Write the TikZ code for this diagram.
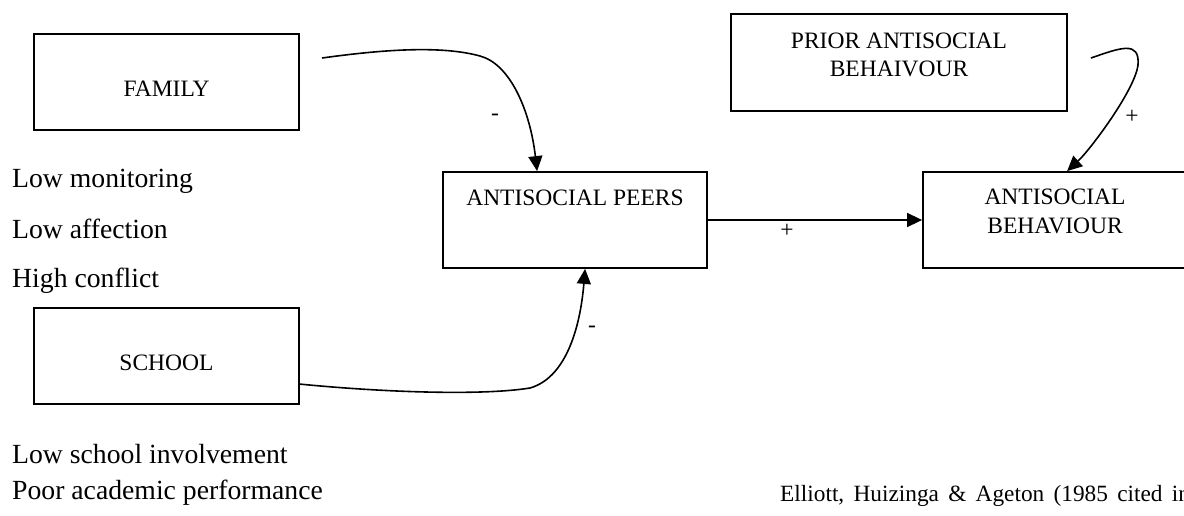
\documentclass[tikz,border=0pt]{standalone}
\usepackage{fontspec}
\setmainfont{Liberation Serif}
\usetikzlibrary{arrows.meta,calc}
\begin{document}
\begin{tikzpicture}[x=1pt,y=-1pt,
  box/.style={draw=black,line width=1.8pt,rectangle,inner sep=0pt,minimum width=265pt,minimum height=96pt},
  boxtext/.style={anchor=base,inner sep=0pt,font=\fontsize{23.5pt}{28pt}\selectfont},
  bodytext/.style={anchor=base west,inner sep=0pt,font=\fontsize{27.7pt}{33pt}\selectfont},
  signlabel/.style={anchor=center,inner sep=0pt,font=\fontsize{23.5pt}{28pt}\selectfont},
  conn/.style={draw=black,line width=1.6pt,-{Triangle[length=15pt,width=14pt]}}]
\useasboundingbox (0,0) rectangle (1184,515);
\clip (0,0) rectangle (1184,515);
\fill[white] (0,0) rectangle (1184,515);

% boxes
\node[box] (family) at (166.5,82) {};
\node[box] (school) at (166.5,356) {};
\node[box,minimum width=264pt] (peers) at (575,220) {};
\node[box,minimum width=336pt,minimum height=97pt] (prior) at (899,62.5) {};
\node[box,minimum width=264pt] (behav) at (1055,220) {};

% box texts
\node[boxtext] (familyt) at (166.5,96) {FAMILY};
\node[boxtext] (schoolt) at (166.5,370) {SCHOOL};
\node[boxtext] (peerst) at (575,205) {ANTISOCIAL PEERS};
\node[boxtext] (priort1) at (899,48) {PRIOR ANTISOCIAL};
\node[boxtext] (priort2) at (899,76) {BEHAIVOUR};
\node[boxtext] (behavt1) at (1055,204) {ANTISOCIAL};
\node[boxtext] (behavt2) at (1055,233) {BEHAVIOUR};

% side texts
\node[bodytext] (t1) at (12,187) {Low monitoring};
\node[bodytext] (t2) at (12,238) {Low affection};
\node[bodytext] (t3) at (12,287) {High conflict};
\node[bodytext] (t4) at (12,463) {Low school involvement};
\node[bodytext] (t5) at (12,499) {Poor academic performance};
\node[anchor=base west,inner sep=0pt,font=\fontsize{23.3pt}{28pt}\selectfont] (cite) at (780,501)
  {\spaceskip=9.3pt Elliott, Huizinga \& Ageton (1985 cited in};

% connector end points
\coordinate (famout) at (322,58);
\coordinate (schout) at (299,384);
\coordinate (priout) at (1091,58);

% connectors
\draw[conn] (famout) .. controls (380,50) and (440,45) .. (480,56)
  .. controls (510,64) and (530,110) .. ($(peers.north west)+(95,0)$);
\draw[conn] (schout) .. controls (380,392) and (480,396) .. (530,388)
  .. controls (565,378) and (580,330) .. ($(peers.south west)+(143,0)$);
\draw[conn] (peers.east) -- (behav.west);
\draw[conn] (priout) .. controls (1120,48) and (1140,40) .. (1138,65)
  .. controls (1135,90) and (1090,150) .. ($(behav.north west)+(145,0)$);

% signs
\node[signlabel] (s1) at (495,117) {-};
\node[signlabel] (s2) at (592,329) {-};
\node[signlabel] (s3) at (787,231) {+};
\node[signlabel] (s4) at (1132,117) {+};
\end{tikzpicture}
\end{document}
